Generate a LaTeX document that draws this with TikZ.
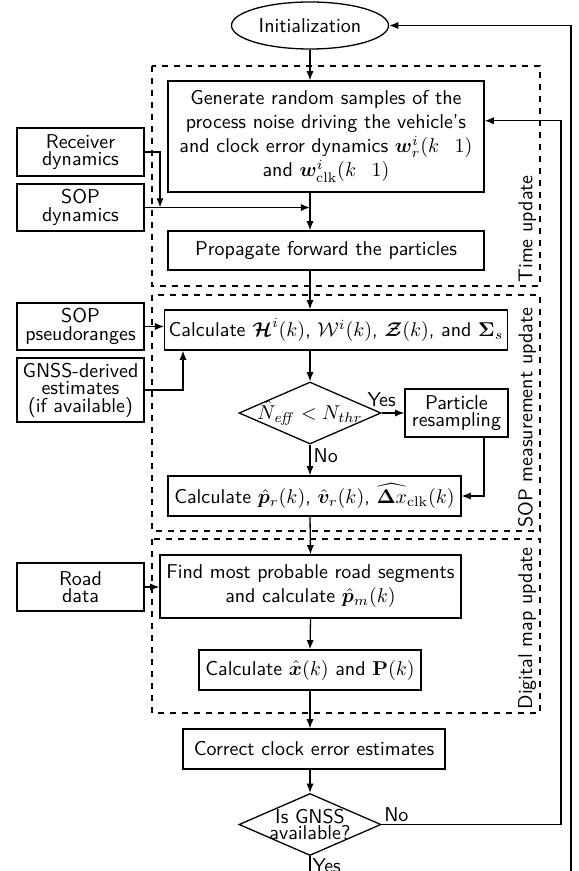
\documentclass[tikz,border=0pt]{standalone}
\usepackage{amsmath}
\usepackage{bm}
\usetikzlibrary{arrows.meta,calc,positioning,shapes.geometric}

\begin{document}
\begin{tikzpicture}[x=0.5pt,y=0.5pt,
    font=\sffamily,line width=0.65pt,
    block/.style={draw,rectangle,align=center,
      inner xsep=2pt,inner ysep=1pt},
    sidebox/.style={draw,rectangle,align=center,inner sep=1pt,
      minimum width=63.5pt,
      font=\sffamily\fontsize{10}{8.8}\selectfont},
    decision/.style={draw,diamond,inner sep=0pt,
      minimum width=71pt,minimum height=31pt},
    group/.style={draw,dashed},
    grouplabel/.style={rotate=90,anchor=south west,inner sep=1.5pt},
    flow/.style={-{Latex[length=4.6pt,width=3.6pt]}}]

        \useasboundingbox (0,0) rectangle (578,-871);
        \clip (0,0) rectangle (578,-871);

        % stage frames
        \draw[group] (152,-66) rectangle (540,-286)
          node[grouplabel] (tulabel) {Time update};

        \draw[group] (152,-295) rectangle (540,-531)
          node[grouplabel] (mulabel) {SOP measurement update};

        \draw[group] (152,-539) rectangle (540,-713)
          node[grouplabel] (dmlabel) {Digital map update};

        % main chain
        \node[ellipse,draw,inner sep=0pt,
          minimum width=78.5pt,minimum height=23.5pt]
          (init) at (310,-25.5) {Initialization};

        \node[block,minimum width=158pt,minimum height=55.5pt]
          (gen) at (326,-136.5)
          {Generate random samples of the\\
           process noise driving the vehicle's\\
           and clock error dynamics $\bm{w}_r^i(k\hphantom{-}1)$\\
           and $\bm{w}_{\mathrm{clk}}^i(k\hphantom{-}1)$};

        \node[block,minimum width=158pt,minimum height=19.5pt]
          (prop) at (326,-250.5) {Propagate forward the particles};

        \node[block,minimum width=168pt,minimum height=20pt]
          (calch) at (336,-330)
          {Calculate $\bm{\mathcal{H}}^i(k)$, $\mathcal{W}^i(k)$,
           $\bm{\mathcal{Z}}(k)$, and $\bm{\Sigma}_s$};

        \node[decision,
          label={center:$\hat{N}_{\mathit{eff}} < N_{thr}$}]
          (neff) at (310,-413) {};

        \node[sidebox,minimum width=51.5pt,minimum height=24pt]
          (part) at (456.5,-413) {Particle\\resampling};

        \node[block,minimum width=146.5pt,minimum height=20pt]
          (calcp) at (314.5,-496)
          {Calculate $\hat{\bm{p}}_r(k)$, $\hat{\bm{v}}_r(k)$,
           $\widehat{\bm{\Delta}x}_{\mathrm{clk}}(k)$};

        \node[block,minimum width=150.5pt,minimum height=31.5pt]
          (find) at (310.5,-586.5)
          {Find most probable road segments\\
           and calculate $\hat{\bm{p}}_m(k)$};

        \node[block,minimum width=111pt,minimum height=20pt]
          (calcx) at (310,-670)
          {Calculate $\hat{\bm{x}}(k)$ and $\mathbf{P}(k)$};

        \node[block,minimum width=131pt,minimum height=20pt]
          (correct) at (314,-749) {Correct clock error estimates};

        \node[decision,
          label={[align=center,
            font=\sffamily\fontsize{10}{8.4}\selectfont]
            center:Is GNSS\\available?}]
          (isgnss) at (310,-824.5) {};

        % inputs on the left
        \node[sidebox,minimum height=24pt]
          (recv) at (80.5,-152) {Receiver\\dynamics};

        \node[sidebox,minimum height=23.5pt]
          (sopdyn) at (80.5,-207.5) {SOP\\dynamics};

        \node[sidebox,minimum height=23.5pt]
          (sopps) at (80.5,-326.5) {SOP\\pseudoranges};

        \node[sidebox,minimum height=32pt]
          (gnssest) at (80.5,-390)
          {GNSS-derived\\estimates\\(if available)};

        \node[sidebox,minimum height=24pt]
          (road) at (80.5,-587) {Road\\data};

        % helper points
        \coordinate (axis) at (310,0);
        \coordinate (recvdrop) at (160,-207.5);
        \coordinate (gnssup) at (183,0);
        \coordinate (partdrop) at (484,0);
        \coordinate (loopin) at (561,0);
        \coordinate (genin) at ($(gen.north east)!0.36!(gen.south east)$);
        \coordinate (loopbottom) at (571,-900);

        % connectors
        \draw[flow] (init.south) -- (axis |- gen.north);

        \draw[flow] (recv.east) -| (recvdrop);

        \draw[flow] (sopdyn.east) -- (axis |- sopdyn.east);

        \draw[flow] (axis |- gen.south) -- (axis |- prop.north);

        \draw[flow] (axis |- prop.south) -- (axis |- calch.north);

        \draw[flow] (sopps.east) -- (sopps.east -| calch.west);

        \draw[flow] (gnssest.east) -| (gnssup |- calch.south);

        \draw[flow] (axis |- calch.south) -- (neff.north);

        \draw[flow] (neff.east)
          node[above,inner sep=3pt] {Yes} -- (part.west);

        \draw[flow] (partdrop |- part.south) |- (calcp.east);

        \draw[flow] (neff.south)
          node[below right,inner sep=1.5pt] {No} -- (axis |- calcp.north);

        \draw[flow] (axis |- calcp.south) -- (find.north);

        \draw[flow] (road.east) -- (road.east -| find.west);

        \draw[flow] (find.south) -- (calcx.north);

        \draw[flow] (calcx.south) -- (axis |- correct.north);

        \draw[flow] (axis |- correct.south) -- (isgnss.north);

        \draw[flow] (isgnss.east)
          node[above right,inner sep=1pt] {No}
          -| (loopin |- genin) -- (genin);

        \draw[flow] (isgnss.south)
          node[below right,inner sep=1pt] {Yes}
          |- (loopbottom) -- (loopbottom |- init.east) -- (init.east);

      \end{tikzpicture}
\end{document}
